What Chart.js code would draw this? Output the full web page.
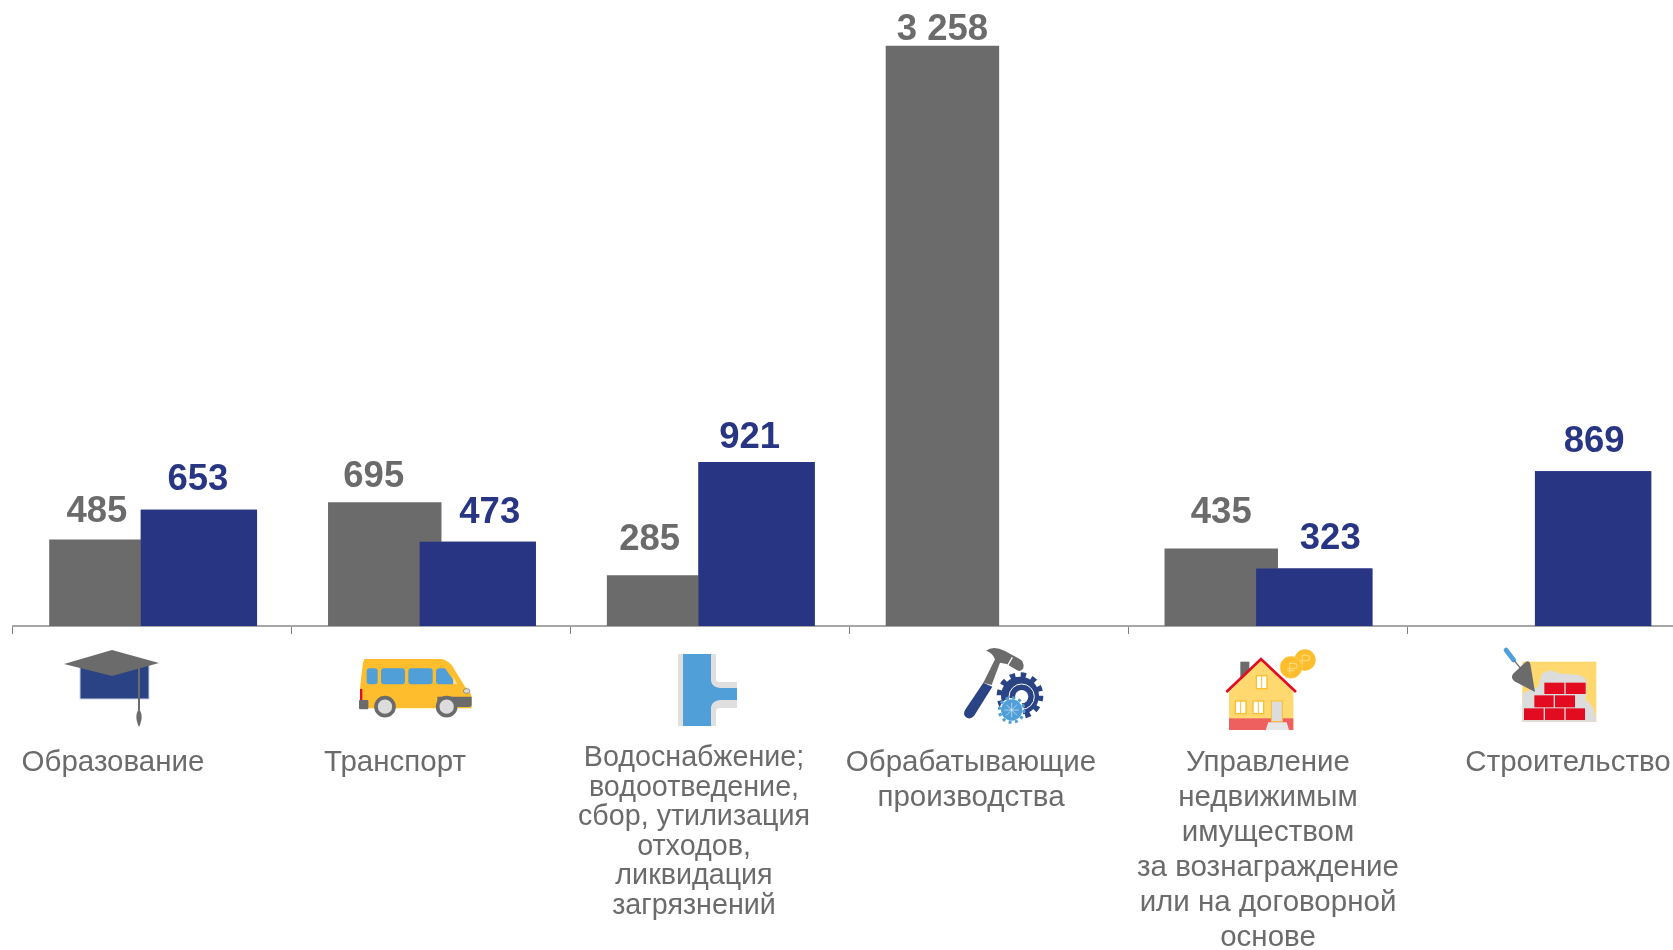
<!DOCTYPE html>
<html lang="ru">
<head>
<meta charset="utf-8">
<title>Отрасли</title>
<script src="https://cdn.jsdelivr.net/npm/chart.js@4"></script>
<style>
  html, body { margin: 0; padding: 0; background: #fff; overflow: hidden; }
  #wrap { position: relative; width: 1673px; height: 950px; overflow: hidden; }
  /* холст шире окна: последняя категория в оригинале обрезана справа */
  #chart { position: absolute; left: 0; top: 0; }
  .icon { position: absolute; }
</style>
</head>
<body>
<div id="wrap">
  <canvas id="chart" width="1700" height="950"></canvas>

  <svg class="icon" style="left:64px;top:650px" width="96" height="78" viewBox="0 0 96 78">
    <rect x="16" y="12" width="69" height="37" fill="#2a4384" stroke="#c9d3e6" stroke-width="1"/>
    <path d="M0 14 L48 0 L95 13 L48 26 Z" fill="#6b6b6b"/>
    <path d="M75 18 V60" stroke="#6b6b6b" stroke-width="2"/>
    <path d="M75 59 C71 64 72 71 75 77 C78 71 79 64 75 59 Z" fill="#6b6b6b"/>
  </svg>

  <svg class="icon" style="left:350px;top:645px" width="130" height="85" viewBox="0 0 390 255">
    <path d="M45 42 H275 Q290 45 305 60 L345 125 Q360 135 365 155 V190 H40 L30 130 L38 60 Q40 44 45 42 Z" fill="#fdbd2c"/>
    <rect x="50" y="70" width="33" height="48" rx="9" fill="#519fd9"/>
    <rect x="93" y="70" width="72" height="48" rx="9" fill="#519fd9"/>
    <rect x="175" y="70" width="73" height="48" rx="9" fill="#519fd9"/>
    <path d="M258 80 Q258 70 270 70 H285 L310 105 V118 H268 Q258 118 258 108 Z" fill="#519fd9"/>
    <path d="M310 95 L322 118 H310 Z" fill="#ffe08a"/>
    <rect x="30" y="132" width="7" height="33" fill="#e30b20"/>
    <rect x="27" y="165" width="28" height="28" rx="3" fill="#6b6b6b"/>
    <path d="M262 155 H365 V180 Q365 186 358 186 H262 Z" fill="#6b6b6b"/>
    <ellipse cx="350" cy="138" rx="10" ry="7" fill="#dcdcdc" stroke="#6b6b6b" stroke-width="2"/>
    <circle cx="105" cy="185" r="27" fill="#dcdcdc" stroke="#6b6b6b" stroke-width="11"/>
    <circle cx="290" cy="185" r="27" fill="#dcdcdc" stroke="#6b6b6b" stroke-width="11"/>
  </svg>

  <svg class="icon" style="left:676px;top:653px" width="64" height="74" viewBox="0 0 64 74">
    <path d="M2 1 H40 V26 Q40 29 44 29 H61 V55 H44 Q40 55 40 58 V73 H2 Z" fill="#dfdfdf"/>
    <path d="M7 1 H35 V28 Q36 34 44 35 H61 V47 H44 Q36 48 35 54 V73 H7 Z" fill="#519fd9"/>
  </svg>

  <svg class="icon" style="left:950px;top:640px" width="110" height="95" viewBox="0 0 330 285">
    <path d="M108 32 Q130 15 165 33 L205 55 Q225 65 220 85 Q212 98 200 90 L170 72 L150 68 L125 135 L100 128 L135 58 Q128 38 108 32 Z" fill="#6b6b6b"/>
    <path d="M187 52 L172 78" stroke="#fff" stroke-width="4"/>
    <path d="M100 128 L127 140 L72 228 Q60 240 48 232 Q38 224 45 210 Z" fill="#2a4384"/>
    <circle cx="210" cy="167" r="57" fill="#2a4384"/>
    <circle cx="210" cy="167" r="62" fill="none" stroke="#2a4384" stroke-width="16" stroke-dasharray="16 16.5"/>
    <circle cx="215" cy="170" r="38" fill="none" stroke="#fff" stroke-width="3"/>
    <circle cx="215" cy="170" r="20" fill="#fff"/>
    <circle cx="185" cy="210" r="36" fill="#fff"/>
    <circle cx="185" cy="210" r="32" fill="#519fd9"/>
    <circle cx="185" cy="210" r="37" fill="none" stroke="#519fd9" stroke-width="9" stroke-dasharray="9 10.4"/>
    <path d="M185 188 V232 M163 210 H207 M169 194 L201 226 M201 194 L169 226" stroke="#fff" stroke-width="1.5"/>
  </svg>

  <svg class="icon" style="left:1215px;top:640px" width="110" height="95" viewBox="0 0 330 285">
    <circle cx="270" cy="60" r="32" fill="#fdbd2c"/>
    <circle cx="228" cy="82" r="33" fill="#fdbd2c" stroke="#ffd970" stroke-width="2"/>
    <path d="M262 72 V46 H275 Q284 46 284 54 Q284 62 275 62 H256" fill="none" stroke="#ffd970" stroke-width="4"/>
    <path d="M224 100 V70 H236 Q246 70 246 78 Q246 86 236 86 H217 M217 92 H238" fill="none" stroke="#ffd970" stroke-width="4"/>
    <rect x="76" y="65" width="27" height="60" fill="#6b6b6b"/>
    <path d="M42 155 L138 58 L235 155 V270 H42 Z" fill="#ffd970"/>
    <rect x="42" y="235" width="193" height="35" fill="#ee6060"/>
    <path d="M34 156 L138 57 L243 156" fill="none" stroke="#e30b20" stroke-width="8"/>
    <g fill="#fff" stroke="#fdbd2c" stroke-width="4">
      <rect x="124" y="107" width="32" height="39"/>
      <rect x="61" y="183" width="32" height="38"/>
      <rect x="114" y="183" width="32" height="38"/>
    </g>
    <path d="M140 107 V146 M77 183 V221 M130 183 V221" stroke="#fdbd2c" stroke-width="3"/>
    <rect x="169" y="183" width="33" height="62" fill="#dcdcdc" stroke="#fdbd2c" stroke-width="3"/>
    <path d="M160 247 H215 L222 270 H152 Z" fill="#e6e6e6"/>
  </svg>

  <svg class="icon" style="left:1495px;top:640px" width="110" height="95" viewBox="0 0 330 285">
    <rect x="82" y="65" width="222" height="180" fill="#ffd970"/>
    <path d="M82 245 V160 L130 140 L140 102 Q165 82 190 100 L250 105 Q275 110 275 130 L272 180 Q300 195 304 245 Z" fill="#dcdcdc"/>
    <path d="M33 30 L56 60" stroke="#519fd9" stroke-width="14" stroke-linecap="round"/>
    <path d="M58 62 L82 92" stroke="#6b6b6b" stroke-width="4"/>
    <path d="M92 66 Q103 60 106 72 L120 156 L58 124 Q44 112 56 100 Z" fill="#6b6b6b"/>
    <g fill="#e30b20">
      <rect x="148" y="128" width="60" height="34"/><rect x="212" y="128" width="60" height="34"/>
      <rect x="118" y="166" width="58" height="36"/><rect x="180" y="166" width="60" height="36"/>
      <rect x="87" y="205" width="59" height="35"/><rect x="150" y="205" width="58" height="35"/><rect x="212" y="205" width="58" height="35"/>
    </g>
  </svg>
</div>

<script>
// данные
const categories = ['Образование', 'Транспорт', 'Водоснабжение', 'Обрабатывающие производства', 'Управление недвижимым имуществом', 'Строительство'];
const seriesGray = [485, 695, 285, 3258, 435, null];
const seriesBlue = [653, 473, 921, null, 323, 869];
const categoryLines = [
  ['Образование'],
  ['Транспорт'],
  ['Водоснабжение;', 'водоотведение,', 'сбор, утилизация', 'отходов,', 'ликвидация', 'загрязнений'],
  ['Обрабатывающие', 'производства'],
  ['Управление', 'недвижимым', 'имуществом', 'за вознаграждение', 'или на договорной', 'основе'],
  ['Строительство']
];

// раскладка подписей: подобрано по картинке
const catLabelX = [113, 395, 694, 971, 1268, 1568];
const catLabelY = [771, 771, 766, 771, 771, 771];
const catLineHeight = [35, 35, 29.5, 35, 35, 35];
const catFontSize = [29.5, 29.5, 28.7, 29.5, 29.5, 29.5];
const grayLabelDx = [-9, -11, -14, 0, 0, 0];
const grayLabelGap = [18, 15, 25, 6, 26, 0];
const blueLabelDx = [-1, 12, -7, 0, 16, 1];
const blueLabelGap = [20, 19, 14, 0, 19, 19];

const gray = '#6b6b6b';
const blue = '#283583';

const labelsPlugin = {
  id: 'labelsPlugin',
  afterDatasetsDraw(chart) {
    // синие столбцы лежат поверх серых
    chart.getDatasetMeta(1).controller.draw();

    const ctx = chart.ctx;
    ctx.save();
    ctx.textAlign = 'center';
    ctx.textBaseline = 'alphabetic';

    const drawValues = (dsIndex, color, dx, gap) => {
      chart.getDatasetMeta(dsIndex).data.forEach((bar, i) => {
        const v = chart.data.datasets[dsIndex].data[i];
        if (v === null) return;
        ctx.fillStyle = color;
        ctx.font = 'bold 36.5px "Liberation Sans", Arial, sans-serif';
        const text = v >= 1000 ? String(v).replace(/(\d)(\d{3})$/, '$1 $2') : String(v);
        ctx.fillText(text, bar.x + dx[i], bar.y - gap[i]);
      });
    };
    drawValues(0, gray, grayLabelDx, grayLabelGap);
    drawValues(1, blue, blueLabelDx, blueLabelGap);

    categoryLines.forEach((lines, i) => {
      ctx.fillStyle = gray;
      ctx.font = catFontSize[i] + 'px "Liberation Sans", Arial, sans-serif';
      lines.forEach((line, j) => {
        ctx.fillText(line, catLabelX[i], catLabelY[i] + j * catLineHeight[i]);
      });
    });
    ctx.restore();
  }
};

new Chart(document.getElementById('chart'), {
  type: 'bar',
  data: {
    labels: categories,
    datasets: [
      { label: 'Серия 1', data: seriesGray, backgroundColor: gray, categoryPercentage: 0.667, barPercentage: 1.22 },
      { label: 'Серия 2', data: seriesBlue, backgroundColor: blue, categoryPercentage: 0.667, barPercentage: 1.25 }
    ]
  },
  options: {
    responsive: false,
    animation: false,
    layout: { padding: { left: 13, right: 14, top: 0, bottom: 316 } },
    plugins: { legend: { display: false }, tooltip: { enabled: false } },
    scales: {
      x: {
        ticks: { display: false },
        grid: { drawOnChartArea: false, drawTicks: true, tickLength: 8, color: '#7f7f7f', lineWidth: 1 },
        border: { color: '#a6a6a6', width: 2 }
      },
      y: { display: false, min: 0, max: 3515 }
    }
  },
  plugins: [labelsPlugin]
});
</script>
</body>
</html>
